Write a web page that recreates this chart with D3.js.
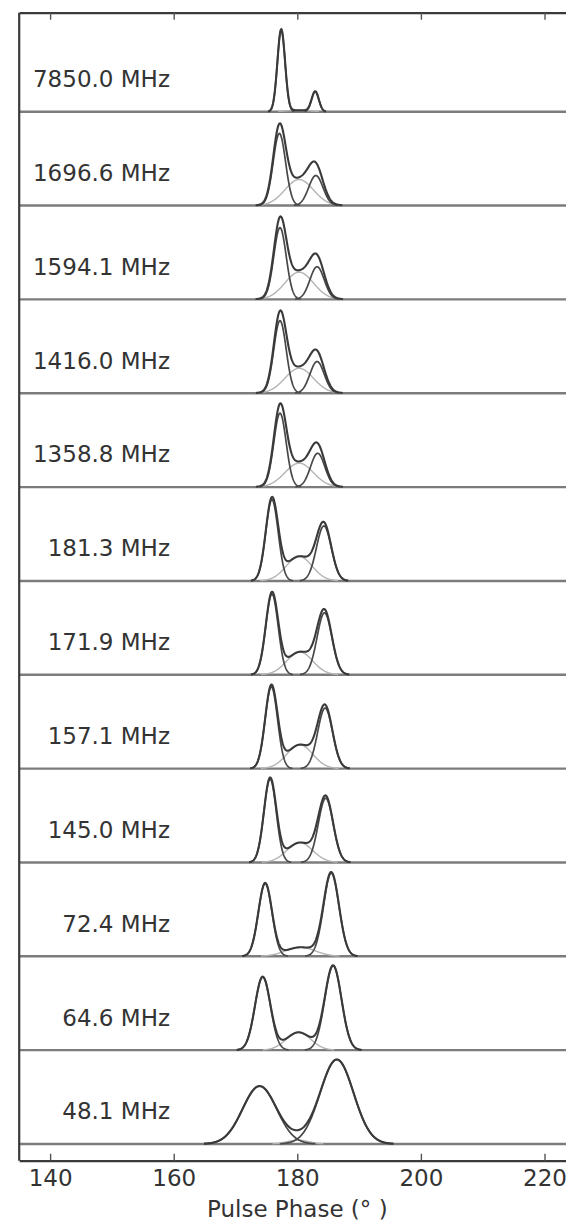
<!DOCTYPE html>
<html>
<head>
<meta charset="utf-8">
<script src="https://cdn.jsdelivr.net/npm/d3@7"></script>
<style>
  html, body { margin: 0; padding: 0; background: #fff; }
  svg { display: block; font-family: "DejaVu Sans", sans-serif; }
</style>
</head>
<body>
<svg id="chart" width="566" height="1222"></svg>
<script>
// Observing frequencies, top to bottom
const frequencies = ["7850.0", "1696.6", "1594.1", "1416.0", "1358.8", "181.3",
                     "171.9", "157.1", "145.0", "72.4", "64.6", "48.1"];

// Leading component: centre (deg), amplitude, Gaussian width (deg)
const leadCentre = [177.4, 177.1, 177.2, 177.2, 177.2, 175.9, 175.9, 175.8, 175.6, 174.8, 174.4, 173.9];
const leadAmp    = [0.874, 0.768, 0.764, 0.773, 0.787, 0.866, 0.860, 0.872, 0.890, 0.776, 0.780, 0.617];
const leadWidth  = [0.62, 1.00, 1.00, 1.00, 1.00, 1.00, 1.00, 1.00, 1.00, 1.10, 1.25, 2.75];

// Trailing component
const trailCentre = [182.9, 183.0, 183.2, 183.2, 183.3, 184.3, 184.4, 184.5, 184.6, 185.5, 185.8, 186.4];
const trailAmp    = [0.213, 0.320, 0.348, 0.338, 0.360, 0.586, 0.660, 0.645, 0.685, 0.887, 0.900, 0.900];
const trailWidth  = [0.58, 1.15, 1.15, 1.15, 1.15, 1.20, 1.20, 1.20, 1.20, 1.25, 1.35, 2.70];

// Central bridge component
const bridgeCentre = [180.2, 180.3, 180.3, 180.3, 180.3, 180.3, 180.4, 180.4, 180.4, 180.5, 180.2, 180.1];
const bridgeAmp    = [0.016, 0.277, 0.290, 0.265, 0.255, 0.261, 0.243, 0.254, 0.211, 0.096, 0.190, 0.040];
const bridgeWidth  = [1.8, 2.3, 2.3, 2.3, 2.3, 2.1, 2.1, 2.1, 2.1, 2.4, 2.0, 1.8];

const xTicks = [140, 160, 180, 200, 220];

const svg = d3.select("#chart");

const x = d3.scaleLinear().domain([135, 225]).range([19.2, 575.4]);
const y = d3.scaleLinear().domain([-0.178, 12.055]).range([1160.7, 12.7]);

const gauss = (c, a, w) => p => a * Math.exp(-((p - c) ** 2) / (2 * w * w));
const phases = d3.range(135, 225.001, 0.05);

const n = frequencies.length;
const line = d3.line().x(d => x(d[0])).y(d => y(d[1]));

// keep only the part of a curve that rises off its baseline
function trimmed(fn, offset) {
  const pts = phases.map(p => [p, fn(p)]);
  const i0 = pts.findIndex(d => d[1] > 0.003);
  if (i0 < 0) return [];
  const i1 = pts.length - 1 - [...pts].reverse().findIndex(d => d[1] > 0.003);
  return pts.slice(Math.max(0, i0 - 1), i1 + 2).map(d => [d[0], d[1] + offset]);
}

svg.append("clipPath").attr("id", "area")
  .append("rect").attr("x", x(135)).attr("y", y(12.055))
  .attr("width", x(225) - x(135)).attr("height", y(-0.178) - y(12.055));
const plot = svg.append("g").attr("clip-path", "url(#area)");

frequencies.forEach((f, i) => {
  const offset = n - 1 - i;
  const g1 = gauss(leadCentre[i], leadAmp[i], leadWidth[i]);
  const g2 = gauss(trailCentre[i], trailAmp[i], trailWidth[i]);
  const g3 = gauss(bridgeCentre[i], bridgeAmp[i], bridgeWidth[i]);
  const total = p => g1(p) + g2(p) + g3(p);

  // baseline
  plot.append("line")
    .attr("x1", x(135)).attr("x2", x(225))
    .attr("y1", y(offset)).attr("y2", y(offset))
    .attr("stroke", "#7c7c7c").attr("stroke-width", 2.4);

  // bridge component
  plot.append("path").datum(trimmed(g3, offset)).attr("d", line)
    .attr("fill", "none").attr("stroke", "#b4b4b4").attr("stroke-width", 1.4);

  // leading and trailing components
  [g1, g2].forEach(g => {
    plot.append("path").datum(trimmed(g, offset)).attr("d", line)
      .attr("fill", "none").attr("stroke", "#484848").attr("stroke-width", 1.7);
  });

  // summed profile
  plot.append("path").datum(trimmed(total, offset)).attr("d", line)
    .attr("fill", "none").attr("stroke", "#3a3a3a").attr("stroke-width", 2.1);

  svg.append("text")
    .attr("x", 170).attr("y", y(offset) - 24.6)
    .attr("text-anchor", "end")
    .attr("font-size", 23).attr("fill", "#333")
    .text(`${f} MHz`);
});

// frame
const axisBottomG = svg.append("g").attr("transform", `translate(0,${y(-0.178)})`)
  .call(d3.axisBottom(x).tickValues(xTicks).tickSizeInner(-7).tickSizeOuter(0).tickPadding(8.7));
const axisTopG = svg.append("g").attr("transform", `translate(0,${y(12.055)})`)
  .call(d3.axisTop(x).tickValues(xTicks).tickSizeInner(-7).tickSizeOuter(0).tickFormat(""));
[axisBottomG, axisTopG].forEach(a => {
  a.select(".domain").attr("stroke", "#3a3a3a").attr("stroke-width", 2.2);
  a.selectAll(".tick line").attr("stroke", "#555").attr("stroke-width", 1.4);
  a.selectAll(".tick text").attr("font-size", 23).attr("fill", "#333")
    .attr("font-family", "DejaVu Sans");
});
svg.append("line")
  .attr("x1", x(135)).attr("x2", x(135))
  .attr("y1", y(12.055)).attr("y2", y(-0.178))
  .attr("stroke", "#3a3a3a").attr("stroke-width", 2.2);

svg.append("text")
  .attr("x", x(180)).attr("y", 1216.7)
  .attr("text-anchor", "middle").attr("font-size", 23).attr("fill", "#333")
  .text("Pulse Phase (° )");
</script>
</body>
</html>
